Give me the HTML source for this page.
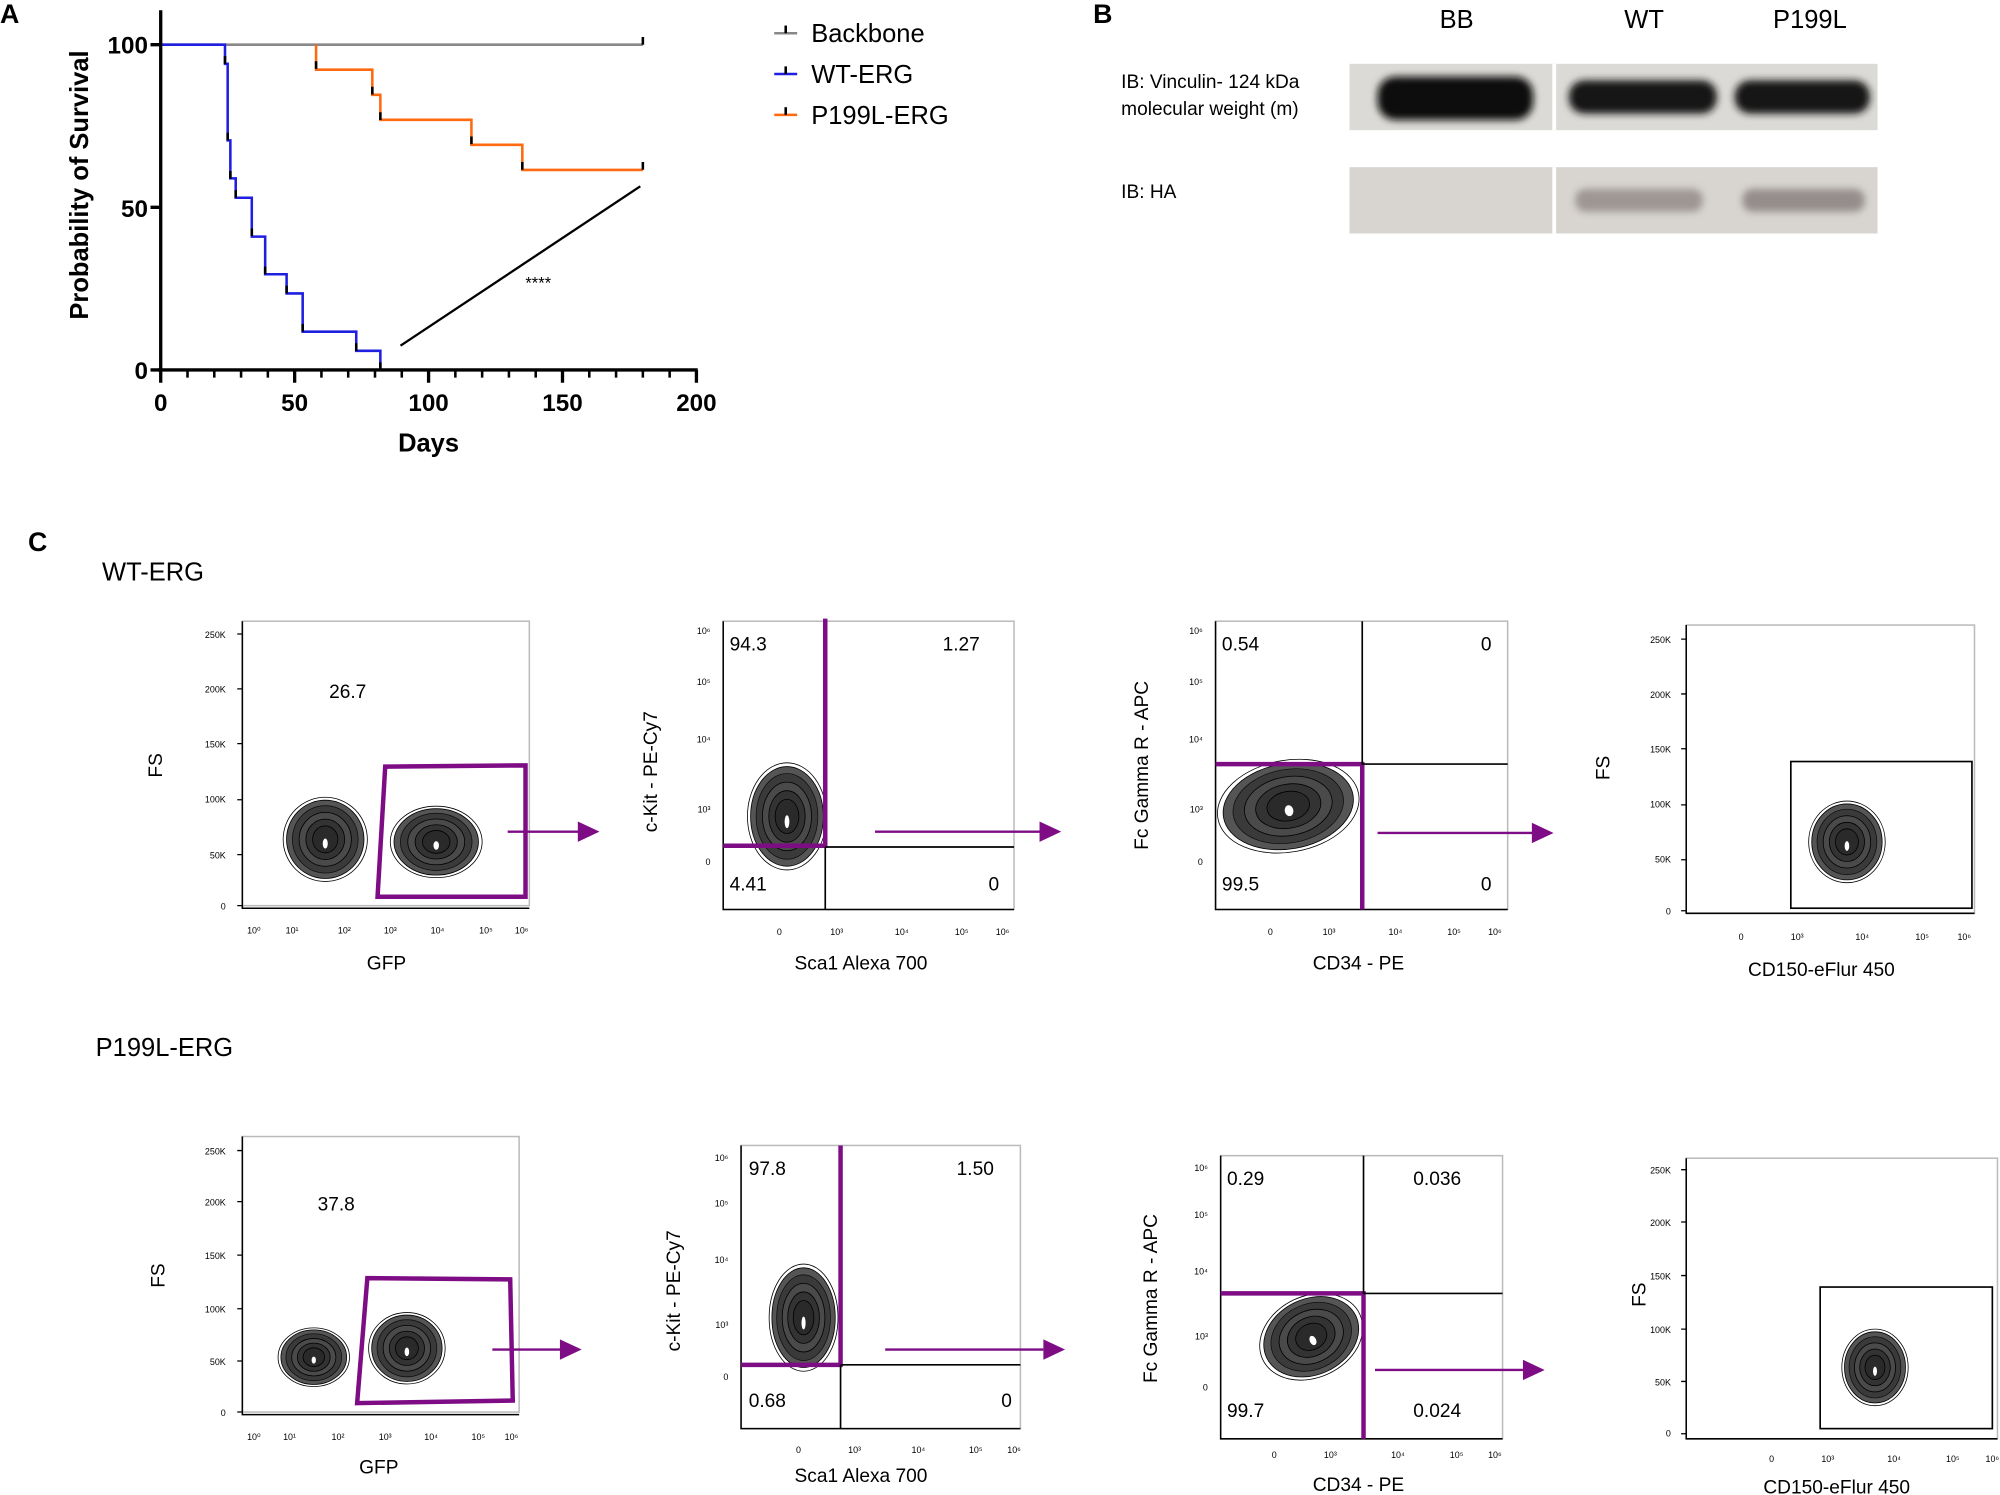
<!DOCTYPE html>
<html><head><meta charset="utf-8"><style>
html,body{margin:0;padding:0;background:#fff}
svg{display:block}
text{font-family:"Liberation Sans",Arial,sans-serif}
</style></head><body>
<svg width="2000" height="1495" viewBox="0 0 1568 1172" xmlns="http://www.w3.org/2000/svg">
<defs>
<g id="blob">
<ellipse cx="0" cy="0" rx="1" ry="1" fill="none" stroke="#000" stroke-width="0.8" vector-effect="non-scaling-stroke"/>
<ellipse cx="0" cy="0" rx="0.92" ry="0.93" fill="#555" stroke="#000" stroke-width="0.8" vector-effect="non-scaling-stroke"/>
<ellipse cx="0" cy="0" rx="0.78" ry="0.8" fill="#3a3a3a" stroke="#111" stroke-width="0.8" vector-effect="non-scaling-stroke"/>
<ellipse cx="0" cy="0" rx="0.62" ry="0.64" fill="#4a4a4a" stroke="#000" stroke-width="0.8" vector-effect="non-scaling-stroke"/>
<ellipse cx="0" cy="0" rx="0.46" ry="0.48" fill="#333" stroke="#000" stroke-width="0.8" vector-effect="non-scaling-stroke"/>
<ellipse cx="0" cy="0" rx="0.3" ry="0.32" fill="#2a2a2a" stroke="#000" stroke-width="0.8" vector-effect="non-scaling-stroke"/>
<ellipse cx="0" cy="0.1" rx="0.06" ry="0.12" fill="#fff"/>
</g>
<filter id="bl" x="-20%" y="-50%" width="140%" height="200%"><feGaussianBlur stdDeviation="3"/></filter>
</defs>

<text x="0" y="18" font-size="21" font-weight="bold">A</text>
<text x="857" y="18" font-size="21" font-weight="bold">B</text>
<text x="22" y="432" font-size="21" font-weight="bold">C</text>

<!-- Survival -->
<g fill="none">
<path d="M126,35 H504" stroke="#888" stroke-width="2"/>
<path d="M126,35 H176.4 V50 H178.5 V110 H180.6 V139.8 H184.8 V155 H197.4 V185.5 H207.9 V215 H224.7 V230 H237.3 V260 H279.3 V275 H298.2 V290" stroke="#1f1fe0" stroke-width="2"/>
<path d="M247.8,35 V54.6 H291.9 V74.3 H298.2 V93.9 H369.6 V113.5 H409.5 V133.2 H504" stroke="#ff6a10" stroke-width="2"/>
<g stroke="#000" stroke-width="2">
<path d="M504,29 V35 M176.4,44 V50 M178.5,104 V110 M180.6,134 V140 M184.8,149 V155 M197.4,179 V185 M207.9,209 V215 M224.7,224 V230 M237.3,254 V260 M279.3,269 V275 M298.2,284 V290 M247.8,48 V54 M291.9,68 V74 M298.2,88 V94 M369.6,107 V113 M409.5,127 V133 M504,127 V133"/>
</g>
<path d="M126,8 V291 M124,290 H547" stroke="#000" stroke-width="2.6"/>
<path d="M118,35 H126 M118,162.5 H126 M118,290 H126" stroke="#000" stroke-width="2.6"/>
<path d="M126,290 v10 M231,290 v10 M336,290 v10 M441,290 v10 M546,290 v10" stroke="#000" stroke-width="2.6"/>
<path d="M147,290v6 M168,290v6 M189,290v6 M210,290v6 M252,290v6 M273,290v6 M294,290v6 M315,290v6 M357,290v6 M378,290v6 M399,290v6 M420,290v6 M462,290v6 M483,290v6 M504,290v6 M525,290v6" stroke="#000" stroke-width="2"/>
<path d="M314,271 L502,146" stroke="#000" stroke-width="1.8"/>
</g>
<g font-size="19" font-weight="bold" text-anchor="end">
<text x="116" y="42">100</text><text x="116" y="170">50</text><text x="116" y="297">0</text>
</g>
<g font-size="19" font-weight="bold" text-anchor="middle">
<text x="126" y="322">0</text><text x="231" y="322">50</text><text x="336" y="322">100</text><text x="441" y="322">150</text><text x="546" y="322">200</text>
<text x="336" y="354" font-size="20">Days</text>
</g>
<text transform="translate(69,145) rotate(-90)" font-size="20" font-weight="bold" text-anchor="middle">Probability of Survival</text>
<text x="422" y="226" font-size="13" text-anchor="middle">****</text>
<g stroke-width="2">
<path d="M607,26 H625" stroke="#888"/><path d="M616,20 V26" stroke="#000"/>
<path d="M607,58 H625" stroke="#1f1fe0"/><path d="M616,52 V58" stroke="#000"/>
<path d="M607,90 H625" stroke="#ff6a10"/><path d="M616,84 V90" stroke="#000"/>
</g>
<g font-size="20"><text x="636" y="33">Backbone</text><text x="636" y="65">WT-ERG</text><text x="636" y="97">P199L-ERG</text></g>

<!-- Western blot -->
<g font-size="20" text-anchor="middle"><text x="1142" y="22">BB</text><text x="1289" y="22">WT</text><text x="1419" y="22">P199L</text></g>
<g font-size="15"><text x="879" y="69">IB: Vinculin- 124 kDa</text><text x="879" y="90">molecular weight (m)</text><text x="879" y="155">IB: HA</text></g>
<rect x="1058" y="50" width="414" height="52" fill="#dcdad6"/>
<rect x="1058" y="131" width="414" height="52" fill="#d8d5d1"/>
<rect x="1080" y="60" width="122" height="34" rx="14" fill="#111" filter="url(#bl)"/>
<rect x="1230" y="63" width="116" height="26" rx="12" fill="#151515" filter="url(#bl)"/>
<rect x="1360" y="63" width="106" height="26" rx="12" fill="#151515" filter="url(#bl)"/>
<rect x="1235" y="148" width="100" height="18" rx="8" fill="#8a8280" opacity="0.75" filter="url(#bl)"/>
<rect x="1366" y="148" width="96" height="18" rx="8" fill="#7e7674" opacity="0.75" filter="url(#bl)"/>
<rect x="1217" y="50" width="3" height="52" fill="#fff"/><rect x="1217" y="131" width="3" height="52" fill="#fff"/>

<text x="80" y="455" font-size="20">WT-ERG</text>
<text x="75" y="828" font-size="20">P199L-ERG</text>

<g fill="none" stroke="#bbb" stroke-width="1.2">
<rect x="190" y="487" width="225" height="223"/>
<rect x="567" y="487" width="228" height="226"/>
<rect x="953" y="487" width="229" height="226"/>
<rect x="1322" y="490" width="226" height="226"/>
<rect x="190" y="891" width="217" height="216"/>
<rect x="581" y="898" width="219" height="222"/>
<rect x="957" y="906" width="221" height="222"/>
<rect x="1322" y="908" width="244" height="220"/>
</g>
<g stroke="#000" stroke-width="1.2" fill="none">
<path d="M190,487 V712 H415 M567,487 V713 H795 M953,487 V713 H1182 M1322,490 V716 H1548 M190,891 V1109 H407 M581,898 V1120 H800 M957,906 V1128 H1178 M1322,908 V1128 H1566"/>
</g>
<!-- tick marks -->
<g stroke="#000" stroke-width="1">
<path d="M186,497h4 M186,540h4 M186,583h4 M186,627h4 M186,670h4 M186,710h4"/>
<path d="M1318,501h4 M1318,544h4 M1318,587h4 M1318,631h4 M1318,674h4 M1318,714h4"/>
<path d="M186,902h4 M186,942h4 M186,984h4 M186,1026h4 M186,1067h4 M186,1107h4"/>
<path d="M1318,917h4 M1318,958h4 M1318,1000h4 M1318,1042h4 M1318,1083h4 M1318,1124h4"/>
</g>

<use href="#blob" transform="translate(255,658) scale(33,33)"/>
<use href="#blob" transform="translate(342,660) scale(36,28)"/>
<use href="#blob" transform="translate(617,640) scale(31,42)"/>
<use href="#blob" transform="translate(1010,632) rotate(-10) scale(56,36)"/>
<use href="#blob" transform="translate(1448,660) scale(30,32)"/>
<use href="#blob" transform="translate(246,1064) scale(28,23)"/>
<use href="#blob" transform="translate(319,1057) scale(30,28)"/>
<use href="#blob" transform="translate(630,1033) scale(27,42)"/>
<use href="#blob" transform="translate(1028,1048) rotate(-25) scale(42,32)"/>
<use href="#blob" transform="translate(1470,1072) scale(26,30)"/>

<g fill="none" stroke="#7d0c85" stroke-width="3.5">
<path d="M302,601 L412,600 L412,703 L296,703 Z"/>
<path d="M647,485 V663 H567"/>
<path d="M953,599 H1068 V713"/>
<path d="M288,1002 L400,1003 L402,1098 L280,1100 Z"/>
<path d="M659,898 V1070 H581"/>
<path d="M957,1014 H1069 V1128"/>
</g>
<g fill="none" stroke="#000" stroke-width="1.3">
<path d="M647,664 H795 M647,664 V713"/>
<path d="M1068,487 V599 H1182"/>
<rect x="1404" y="597" width="142" height="115"/>
<path d="M659,1070 H800 M659,1070 V1120"/>
<path d="M1069,906 V1014 H1178"/>
<rect x="1427" y="1009" width="135" height="111"/>
</g>
<g stroke="#7d0c85" stroke-width="1.8" fill="#7d0c85">
<path d="M398,652 H455"/><path d="M453,644 L470,652 L453,660 Z" stroke="none"/>
<path d="M686,652 H816"/><path d="M815,644 L832,652 L815,660 Z" stroke="none"/>
<path d="M1080,653 H1202"/><path d="M1201,645 L1218,653 L1201,661 Z" stroke="none"/>
<path d="M386,1058 H440"/><path d="M439,1050 L456,1058 L439,1066 Z" stroke="none"/>
<path d="M694,1058 H818"/><path d="M818,1050 L835,1058 L818,1066 Z" stroke="none"/>
<path d="M1078,1074 H1194"/><path d="M1194,1066 L1211,1074 L1194,1082 Z" stroke="none"/>
</g>

<g font-size="15">
<text x="258" y="547">26.7</text>
<text x="572" y="510">94.3</text><text x="739" y="510">1.27</text><text x="572" y="698">4.41</text><text x="775" y="698">0</text>
<text x="958" y="510">0.54</text><text x="1161" y="510">0</text><text x="958" y="698">99.5</text><text x="1161" y="698">0</text>
<text x="249" y="949">37.8</text>
<text x="587" y="921">97.8</text><text x="750" y="921">1.50</text><text x="587" y="1103">0.68</text><text x="785" y="1103">0</text>
<text x="962" y="929">0.29</text><text x="1108" y="929">0.036</text><text x="962" y="1111">99.7</text><text x="1108" y="1111">0.024</text>
</g>
<g font-size="15" text-anchor="middle">
<text x="303" y="760">GFP</text>
<text x="675" y="760">Sca1   Alexa 700</text>
<text x="1065" y="760">CD34 - PE</text>
<text x="1428" y="765">CD150-eFlur 450</text>
<text x="297" y="1155">GFP</text>
<text x="675" y="1162">Sca1   Alexa 700</text>
<text x="1065" y="1169">CD34 - PE</text>
<text x="1440" y="1171">CD150-eFlur 450</text>
<text transform="translate(127,600) rotate(-90)">FS</text>
<text transform="translate(515,605) rotate(-90)">c-Kit - PE-Cy7</text>
<text transform="translate(900,600) rotate(-90)">Fc Gamma R - APC</text>
<text transform="translate(1262,602) rotate(-90)">FS</text>
<text transform="translate(129,1000) rotate(-90)">FS</text>
<text transform="translate(533,1012) rotate(-90)">c-Kit - PE-Cy7</text>
<text transform="translate(907,1018) rotate(-90)">Fc Gamma R - APC</text>
<text transform="translate(1290,1015) rotate(-90)">FS</text>
</g>
<g font-size="7" text-anchor="end">
<text x="177" y="500">250K</text><text x="177" y="543">200K</text><text x="177" y="586">150K</text><text x="177" y="629">100K</text><text x="177" y="673">50K</text><text x="177" y="713">0</text>
<text x="1310" y="504">250K</text><text x="1310" y="547">200K</text><text x="1310" y="590">150K</text><text x="1310" y="633">100K</text><text x="1310" y="676">50K</text><text x="1310" y="717">0</text>
<text x="177" y="905">250K</text><text x="177" y="945">200K</text><text x="177" y="987">150K</text><text x="177" y="1029">100K</text><text x="177" y="1070">50K</text><text x="177" y="1110">0</text>
<text x="1310" y="920">250K</text><text x="1310" y="961">200K</text><text x="1310" y="1003">150K</text><text x="1310" y="1045">100K</text><text x="1310" y="1086">50K</text><text x="1310" y="1126">0</text>
<text x="557" y="497">10⁶</text><text x="557" y="537">10⁵</text><text x="557" y="582">10⁴</text><text x="557" y="637">10³</text><text x="557" y="678">0</text>
<text x="943" y="497">10⁶</text><text x="943" y="537">10⁵</text><text x="943" y="582">10⁴</text><text x="943" y="637">10³</text><text x="943" y="678">0</text>
<text x="571" y="910">10⁶</text><text x="571" y="946">10⁵</text><text x="571" y="990">10⁴</text><text x="571" y="1041">10³</text><text x="571" y="1082">0</text>
<text x="947" y="918">10⁶</text><text x="947" y="955">10⁵</text><text x="947" y="999">10⁴</text><text x="947" y="1050">10³</text><text x="947" y="1090">0</text>
</g>
<g font-size="7" text-anchor="middle">
<text x="199" y="732">10⁰</text><text x="229" y="732">10¹</text><text x="270" y="732">10²</text><text x="306" y="732">10³</text><text x="343" y="732">10⁴</text><text x="381" y="732">10⁵</text><text x="409" y="732">10⁶</text>
<text x="611" y="733">0</text><text x="656" y="733">10³</text><text x="707" y="733">10⁴</text><text x="754" y="733">10⁵</text><text x="786" y="733">10⁶</text>
<text x="996" y="733">0</text><text x="1042" y="733">10³</text><text x="1094" y="733">10⁴</text><text x="1140" y="733">10⁵</text><text x="1172" y="733">10⁶</text>
<text x="1365" y="737">0</text><text x="1409" y="737">10³</text><text x="1460" y="737">10⁴</text><text x="1507" y="737">10⁵</text><text x="1540" y="737">10⁶</text>
<text x="199" y="1129">10⁰</text><text x="227" y="1129">10¹</text><text x="265" y="1129">10²</text><text x="302" y="1129">10³</text><text x="338" y="1129">10⁴</text><text x="375" y="1129">10⁵</text><text x="401" y="1129">10⁶</text>
<text x="626" y="1139">0</text><text x="670" y="1139">10³</text><text x="720" y="1139">10⁴</text><text x="765" y="1139">10⁵</text><text x="795" y="1139">10⁶</text>
<text x="999" y="1143">0</text><text x="1043" y="1143">10³</text><text x="1096" y="1143">10⁴</text><text x="1142" y="1143">10⁵</text><text x="1172" y="1143">10⁶</text>
<text x="1389" y="1146">0</text><text x="1433" y="1146">10³</text><text x="1485" y="1146">10⁴</text><text x="1531" y="1146">10⁵</text><text x="1562" y="1146">10⁶</text>
</g>
</svg>
</body></html>
